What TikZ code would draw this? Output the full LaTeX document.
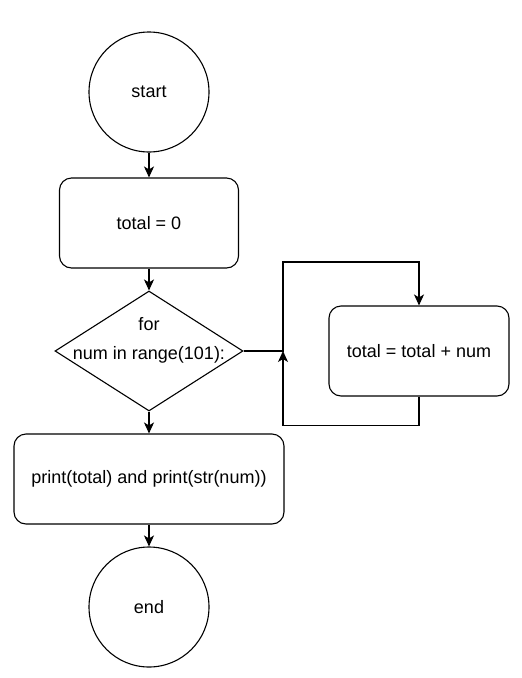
\documentclass[tikz,border=0pt]{standalone}
\usepackage{fontspec}
\setmainfont{Liberation Sans}
\usetikzlibrary{shapes.geometric,arrows.meta}
\tikzstyle{terminal} = [circle, minimum size=120pt, inner sep=0pt, text centered, draw=black, line width=1.1pt, fill=white, font=\fontsize{18}{21}\selectfont]
\tikzstyle{process} = [rectangle, rounded corners=12pt, minimum width=179pt, minimum height=90pt, text centered, draw=black, line width=1.1pt, fill=white, font=\fontsize{18}{21}\selectfont]
\tikzstyle{decision} = [diamond, minimum width=188pt, minimum height=120pt, inner sep=0pt, draw=black, line width=1.1pt, fill=white, font=\fontsize{18}{21}\selectfont]
\tikzstyle{arrow} = [line width=1.1pt,-{Stealth[length=11pt,width=10pt,inset=3pt]}]

\begin{document}
\begin{tikzpicture}[node distance=128pt, x=1pt, y=1pt]
\useasboundingbox (0,0) rectangle (522,-678);
\node (start1) [terminal] at (149,-92) {start};
\node (pro1) [process, below of=start1, yshift=-3pt] {total = 0};
\node (dec1) [decision, below of=pro1, label={[align=center, yshift=11pt, font=\fontsize{18}{21}\selectfont]center:for\\[8pt]num in range(101):}] {};
\node (pro2) [process, right of=dec1, xshift=142pt, minimum width=180pt] {total = total + num};
\node (pro3) [process, below of=dec1, minimum width=270pt] {print(total) and print(str(num))};
\node (stop1) [terminal, below of=pro3] {end};

\coordinate (join) at (283,-351);
\coordinate (jointop) at (283,-262);

\draw [arrow] (start1) -- (pro1);
\draw [arrow] (pro1) -- (dec1);
\draw [arrow] (dec1.east) -- (join) -- (jointop) -| (pro2);
\draw [arrow] (pro2.south) -- ++(0,-29) -| (join);
\draw [arrow] (dec1) -- (pro3);
\draw [arrow] (pro3) -- (stop1);
\end{tikzpicture}
\end{document}
